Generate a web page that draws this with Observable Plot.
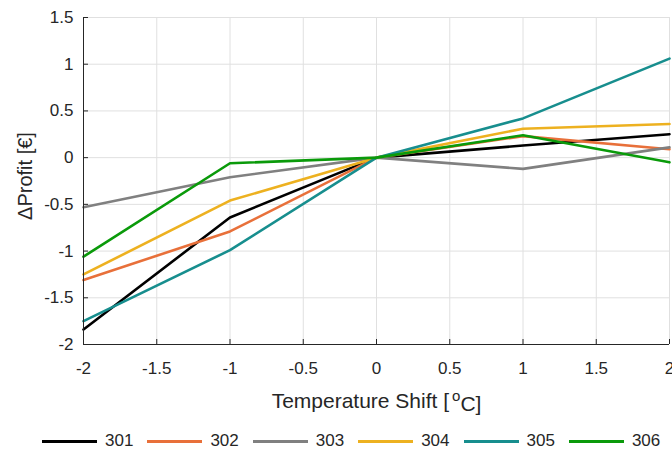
<!DOCTYPE html>
<html>
<head>
<meta charset="utf-8">
<script src="https://cdn.jsdelivr.net/npm/d3@7"></script>
<script src="https://cdn.jsdelivr.net/npm/@observablehq/plot@0.6"></script>
<style>
  body { margin: 0; background: #fff; font-family: "Liberation Sans", Arial, sans-serif; }
  #legend { display: flex; align-items: center; padding-left: 42px; height: 24px; margin-top: 9px; font-size: 17px; color: #262626; }
  .item { display: flex; align-items: center; margin-right: 14px; }
  .sw { width: 55px; height: 3px; margin-right: 8px; }
</style>
</head>
<body>
<div id="chart"></div>
<div id="legend"></div>
<script>
const xValues = [-2, -1, 0, 1, 2];
const series = ["301", "302", "303", "304", "305", "306"];
const colors = ["#000000", "#E8703A", "#808080", "#EDB120", "#178E8E", "#0A9A0A"];
const v301 = [-1.84, -0.64, 0, 0.13, 0.25];
const v302 = [-1.31, -0.79, 0, 0.23, 0.09];
const v303 = [-0.53, -0.21, 0, -0.12, 0.11];
const v304 = [-1.25, -0.46, 0, 0.31, 0.36];
const v305 = [-1.75, -0.99, 0, 0.42, 1.06];
const v306 = [-1.06, -0.06, 0, 0.24, -0.05];
const xTicks = [-2, -1.5, -1, -0.5, 0, 0.5, 1, 1.5, 2];
const yTicks = [-2, -1.5, -1, -0.5, 0, 0.5, 1, 1.5];

const allValues = [v301, v302, v303, v304, v305, v306];
const data = [];
series.forEach((s, i) => xValues.forEach((x, j) => data.push({series: s, x, y: allValues[i][j]})));

const fmt = d => String(d);
const chart = Plot.plot({
  width: 672,
  height: 420,
  marginTop: 17,
  marginBottom: 76,
  marginLeft: 83,
  marginRight: 3,
  style: {fontFamily: "Liberation Sans, Arial, sans-serif", fontSize: "17px", color: "#262626", background: "#fff"},
  x: {domain: [-2, 2]},
  y: {domain: [-2, 1.5]},
  color: {domain: series, range: colors},
  marks: [
    Plot.gridX(xTicks, {stroke: "#e0e0e0", strokeOpacity: 1}),
    Plot.gridY(yTicks, {stroke: "#e0e0e0", strokeOpacity: 1}),
    Plot.line(data, {x: "x", y: "y", z: "series", stroke: "series", strokeWidth: 2.6}),
    Plot.ruleX([-2], {stroke: "#262626"}),
    Plot.ruleY([-2], {stroke: "#262626"}),
    Plot.axisX(xTicks, {tickSize: -5, tickPadding: 22, tickFormat: fmt, fontSize: 17, stroke: "#262626", fill: "#262626", label: null}),
    Plot.axisY(yTicks, {tickSize: -5, tickPadding: 15, tickFormat: fmt, fontSize: 17, stroke: "#262626", fill: "#262626", label: null}),
    Plot.text(["Temperature Shift [ oC]"], {frameAnchor: "bottom", lineAnchor: "middle", textAnchor: "middle", dy: 57, fontSize: 21, fill: "#262626"}),
    Plot.text(["ΔProfit [€]"], {frameAnchor: "left", lineAnchor: "middle", textAnchor: "middle", dx: -58, dy: -5, rotate: -90, fontSize: 20, fill: "#262626"})
  ]
});
document.getElementById("chart").append(chart);

// superscript the "o" of °C in the x label
d3.select(chart).selectAll("text").each(function() {
  const t = d3.select(this);
  if (t.text() === "Temperature Shift [ oC]") {
    t.text(null);
    t.append("tspan").text("Temperature Shift [");
    t.append("tspan").attr("dy", "-0.45em").attr("dx", "3").attr("font-size", "15px").text("o");
    t.append("tspan").attr("dy", "0.45em").text("C]");
  }
});

const legend = document.getElementById("legend");
series.forEach((s, i) => {
  const item = document.createElement("div");
  item.className = "item";
  const sw = document.createElement("div");
  sw.className = "sw";
  sw.style.background = colors[i];
  const t = document.createElement("span");
  t.textContent = s;
  item.append(sw, t);
  legend.append(item);
});
</script>
</body>
</html>
